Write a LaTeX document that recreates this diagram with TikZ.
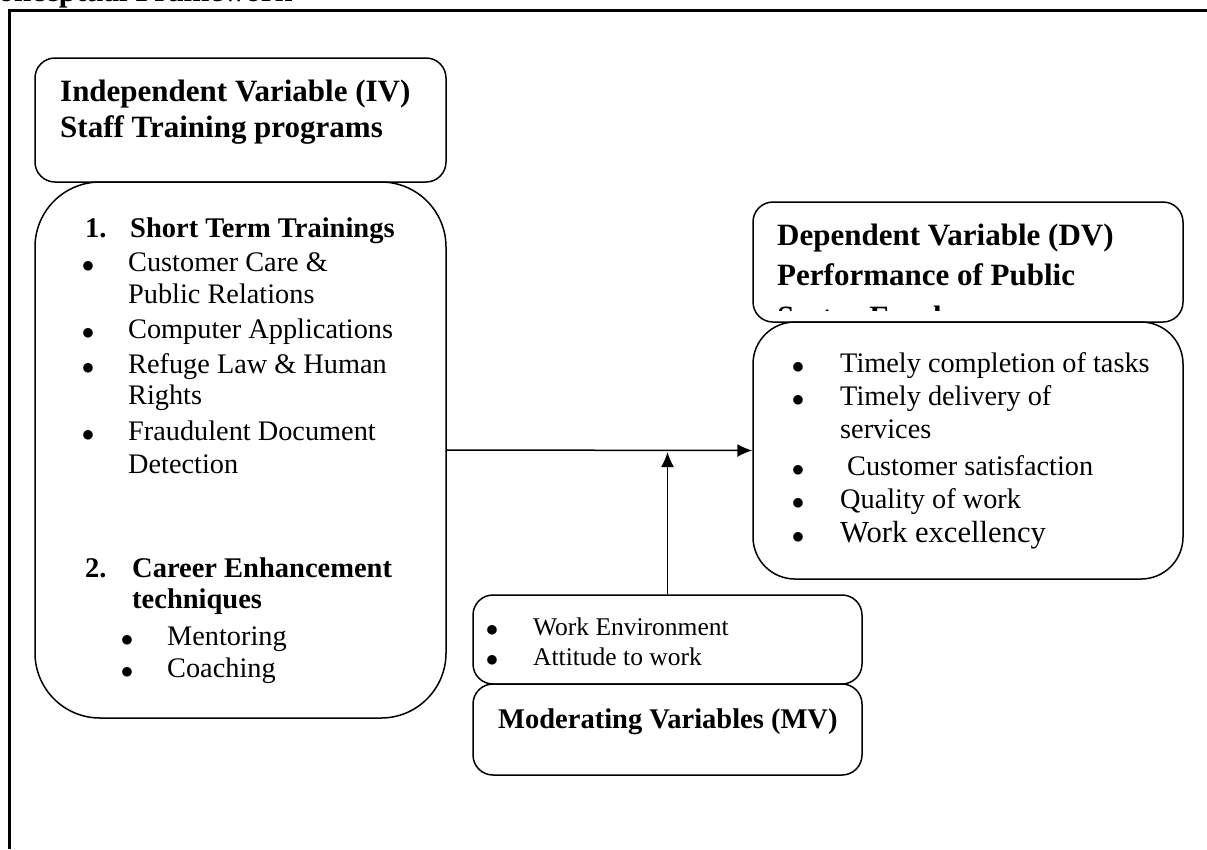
\documentclass[tikz,border=0pt]{standalone}
\usepackage{fontspec}
\setmainfont{Liberation Serif}
\usetikzlibrary{arrows.meta}

\tikzset{
  box/.style={draw, line width=1.5pt, rounded corners=20pt, inner sep=0pt},
  headtxt/.style={anchor=base west, inner sep=0pt, font=\fontsize{31}{36}\selectfont\bfseries},
  subtxt/.style={anchor=base west, inner sep=0pt, font=\fontsize{28.5}{33}\selectfont\bfseries},
  itemtxt/.style={anchor=base west, inner sep=0pt, font=\fontsize{28.3}{33}\selectfont},
  mvtxt/.style={anchor=base west, inner sep=0pt, font=\fontsize{25.5}{30}\selectfont},
  dot/.style={anchor=base, inner sep=0pt, yshift=-1.5pt, font=\fontsize{36}{40}\selectfont},
}

\begin{document}
\begin{tikzpicture}[x=1pt, y=-1pt, >={Latex[length=15pt,width=13pt]}]
    \clip (0,0) rectangle (1207,849);

    % Rahmen und Titel
    \node[headtxt] (title) at (-24,1) {Conceptual Framework};
    \draw[line width=3pt] (9.5,849) -- (9.5,10.5) -- (1207,10.5);

    % Unabhaengige Variable
    \node[box, minimum width=411pt, minimum height=124pt] (ivhead) at (240.5,120) {};
    \node[headtxt] (ivname) at (60,101) {Independent Variable (IV)};
    \node[headtxt] (ivsub) at (60,137) {Staff Training programs};

    \node[box, rounded corners=65pt, minimum width=411pt, minimum height=536pt] (ivbody) at (240.5,450) {};
    \node[subtxt] (numa) at (85,237) {1.};
    \node[subtxt] (sterm) at (130,237) {Short Term Trainings};
    \foreach \y in {271,338,373,440}
        \node[dot] (ivdot\y) at (88,\y) {$\bullet$};
    \node[itemtxt] (care) at (128,271) {Customer Care \&};
    \node[itemtxt] (care2) at (128,303) {Public Relations};
    \node[itemtxt] (comp) at (128,338) {Computer Applications};
    \node[itemtxt] (law) at (128,373) {Refuge Law \& Human};
    \node[itemtxt] (law2) at (128,404) {Rights};
    \node[itemtxt] (fraud) at (128,440) {Fraudulent Document};
    \node[itemtxt] (fraud2) at (128,473) {Detection};

    \node[subtxt] (numb) at (85,577) {2.};
    \node[subtxt] (career) at (132,577) {Career Enhancement};
    \node[subtxt] (career2) at (132,608) {techniques};
    \node[dot] (mdot) at (127,645) {$\bullet$};
    \node[dot] (cdot) at (127,677) {$\bullet$};
    \node[itemtxt] (mentor) at (167,645) {Mentoring};
    \node[itemtxt] (coach) at (167,677) {Coaching};

    % Abhaengige Variable
    \node[box, minimum width=430pt, minimum height=120pt] (dvhead) at (968,262) {};
    \node[headtxt] (dvname) at (777,245) {Dependent Variable (DV)};
    \node[headtxt] (dvsub) at (777,285) {Performance of Public};
    \begin{scope}
        \clip (753,202) rectangle (1183,310);
        \node[headtxt] (dvsub2) at (777,327) {Sector Employees};
    \end{scope}

    \node[box, rounded corners=42pt, minimum width=430pt, minimum height=257pt] (dvbody) at (968,450.5) {};
    \foreach \y in {372,405,475,508,542}
        \node[dot] (dvdot\y) at (798,\y) {$\bullet$};
    \node[itemtxt] (timely) at (840,372) {Timely completion of tasks};
    \node[itemtxt] (deliv) at (840,405) {Timely delivery of};
    \node[itemtxt] (deliv2) at (840,438) {services};
    \node[itemtxt] (satis) at (847,475) {Customer satisfaction};
    \node[itemtxt] (qual) at (840,508) {Quality of work};
    \node[itemtxt, font=\fontsize{30.6}{35}\selectfont] (excel) at (840,542) {Work excellency};

    % Moderierende Variablen
    \node[box, minimum width=389pt, minimum height=89pt] (mvlist) at (667.5,639.5) {};
    \node[dot, font=\fontsize{32}{36}\selectfont] (wdot) at (492,635) {$\bullet$};
    \node[dot, font=\fontsize{32}{36}\selectfont] (adot) at (492,665) {$\bullet$};
    \node[mvtxt] (env) at (533,635) {Work Environment};
    \node[mvtxt] (att) at (533,665) {Attitude to work};

    \node[box, minimum width=389pt, minimum height=91pt] (mvhead) at (667.5,729.5) {};
    \node[subtxt] (mvname) at (498,728) {Moderating Variables (MV)};

    % Pfeile
    \coordinate (join) at ([yshift=-2pt]mvlist.north |- ivbody.east);
    \draw[->, line width=1.5pt] (ivbody.east) -- (dvbody.west);
    \draw[->, line width=1.5pt] (mvlist.north) -- (join);
\end{tikzpicture}
\end{document}
